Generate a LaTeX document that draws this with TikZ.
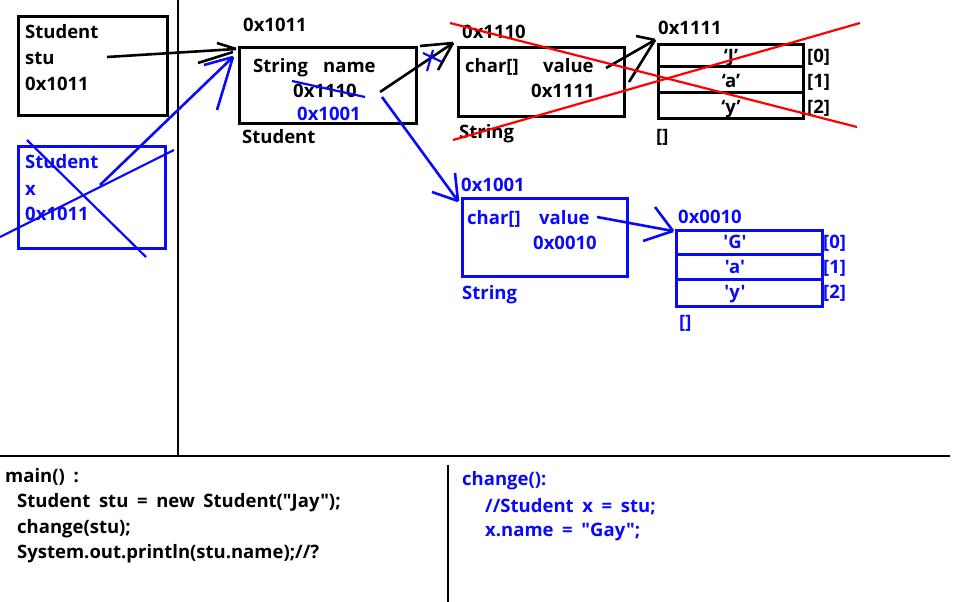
\documentclass[tikz,border=0pt]{standalone}
\usepackage{fontspec}
\setmainfont{Open Sans}[Ligatures=TeXOff,WordSpace=1.8]
\definecolor{myblue}{RGB}{10,10,250}
\definecolor{myred}{RGB}{255,0,0}
\begin{document}
\begin{tikzpicture}[x=1pt,y=-1pt,
  txt/.style={inner sep=0pt,anchor=base west,font=\fontsize{18.5}{21}\selectfont\bfseries},
  btxt/.style={txt,text=myblue},
  blkbox/.style={draw=black,line width=3pt},
  blubox/.style={draw=myblue,line width=3pt},
  blk/.style={draw=black,line width=2.6pt},
  blu/.style={draw=myblue,line width=2.6pt},
  rd/.style={draw=myred,line width=2.2pt},
  sep/.style={draw=black,line width=2.8pt}]
\useasboundingbox (0,0) rectangle (958,602);
\fill[white] (0,0) rectangle (958,602);

% separators
\coordinate (v1t) at (178,0); \coordinate (v1b) at (178,456);
\coordinate (h1l) at (0,456); \coordinate (h1r) at (950,456);
\coordinate (v2t) at (448,465); \coordinate (v2b) at (448,602);
\draw[sep] (v1t) -- (v1b);
\draw[sep] (h1l) -- (h1r);
\draw[sep] (v2t) -- (v2b);

% stu box
\node[blkbox,minimum width=149pt,minimum height=99pt,anchor=north west,inner sep=0pt] (stubox) at (17,15) {};
\node[txt] (stu1) at (25,38) {Student};
\node[txt] (stu2) at (25,64) {stu};
\node[txt] (stu3) at (25,90) {0x1011};

% x box
\node[blubox,minimum width=147pt,minimum height=102pt,anchor=north west,inner sep=0pt] (xbox) at (17,145) {};
\node[btxt] (x1) at (25,168) {Student};
\node[btxt] (x2) at (25,195) {x};
\node[btxt] (x3) at (25,220) {0x1011};
\coordinate (xc1a) at (27,140); \coordinate (xc1b) at (146,257);
\coordinate (xc2a) at (0,237); \coordinate (xc2b) at (174,150);
\draw[blu,line width=2.2pt] (xc1a) -- (xc1b);
\draw[blu,line width=2.2pt] (xc2a) -- (xc2b);

% Student object
\node[txt] (stuaddr) at (243,32) {0x1011};
\node[blkbox,minimum width=177pt,minimum height=76pt,anchor=north west,inner sep=0pt] (stuobj) at (238,46) {};
\node[txt] (sname1) at (253,72) {String};
\node[txt] (sname2) at (323,72) {name};
\node[txt] (old1) at (293,97) {0x1110};
\node[btxt] (new1) at (297,120) {0x1001};
\node[txt] (stulab) at (242,143) {Student};
\coordinate (st1) at (292,81); \coordinate (st2) at (365,97);
\draw[blu,line width=2.2pt] (st1) -- (st2);

% arrow stu -> Student object
\coordinate (a1s) at (107,57); \coordinate (a1t) at (236,49);
\coordinate (a1h1) at (217,43); \coordinate (a1h2) at (198,63); \coordinate (a1t2) at (233,52);
\draw[blk] (a1s) -- (a1t);
\draw[blk] (a1h1) -- (a1t);
\draw[blk] (a1h2) -- (a1t2);

% arrow x -> Student object
\coordinate (a2s) at (100,185); \coordinate (a2t) at (233,57);
\coordinate (a2h1) at (204,65); \coordinate (a2h2) at (217,110);
\draw[blu] (a2s) -- (a2t);
\draw[blu] (a2h1) -- (a2t);
\draw[blu] (a2h2) -- (a2t);

% old String object
\node[txt] (s1addr) at (462,38) {0x1110};
\node[blkbox,minimum width=166pt,minimum height=69pt,anchor=north west,inner sep=0pt] (s1obj) at (457,46) {};
\node[txt] (s1a) at (465,73) {char[]};
\node[txt] (s1b) at (543,73) {value};
\node[txt] (s1c) at (531,97) {0x1111};
\node[txt] (s1lab) at (459,138) {String};

% arrow name -> old String
\coordinate (a3s) at (380,92); \coordinate (a3t) at (453,43);
\coordinate (a3h1) at (420,46); \coordinate (a3h2) at (438,70);
\draw[blk] (a3s) -- (a3t);
\draw[blk] (a3h1) -- (a3t);
\draw[blk] (a3h2) -- (a3t);
\coordinate (bx1) at (423,53); \coordinate (bx2) at (442,62);
\coordinate (bx3) at (433,50); \coordinate (bx4) at (427,71);
\draw[blu,line width=2.2pt] (bx1) -- (bx2);
\draw[blu,line width=2.2pt] (bx3) -- (bx4);

% old array
\node[txt] (ar1addr) at (658,35) {0x1111};
\node[blkbox,minimum width=145pt,minimum height=74pt,anchor=north west,inner sep=0pt] (ar1) at (657,43) {};
\coordinate (r1l) at (657,67); \coordinate (r1r) at (802,67);
\coordinate (r2l) at (657,92); \coordinate (r2r) at (802,92);
\draw[blk,line width=3pt] (r1l) -- (r1r);
\draw[blk,line width=3pt] (r2l) -- (r2r);
\node[txt,anchor=base] (c0) at (731,63) {‘J’};
\node[txt,anchor=base] (c1) at (731,87) {‘a’};
\node[txt,anchor=base] (c2) at (731,113) {‘y’};
\node[txt] (i0) at (807,63) {[0]};
\node[txt] (i1) at (807,87) {[1]};
\node[txt] (i2) at (807,113) {[2]};
\node[txt] (ar1lab) at (656,142) {[]};

% arrow value -> old array
\coordinate (a4s) at (606,68); \coordinate (a4t) at (655,40);
\coordinate (a4h1) at (636,36); \coordinate (a4h2) at (629,82);
\draw[blk] (a4s) -- (a4t);
\draw[blk] (a4h1) -- (a4t);
\draw[blk] (a4h2) -- (a4t);

% red cross
\coordinate (rc1a) at (450,23); \coordinate (rc1b) at (857,127);
\coordinate (rc2a) at (453,140); \coordinate (rc2b) at (860,23);
\draw[rd] (rc1a) -- (rc1b);
\draw[rd] (rc2a) -- (rc2b);

% new String object
\node[btxt] (s2addr) at (461,191) {0x1001};
\node[blubox,minimum width=165pt,minimum height=78pt,anchor=north west,inner sep=0pt] (s2obj) at (461,197) {};
\node[btxt] (s2a) at (467,224) {char[]};
\node[btxt] (s2b) at (539,224) {value};
\node[btxt] (s2c) at (533,249) {0x0010};
\node[btxt] (s2lab) at (462,299) {String};

% arrow name -> new String
\coordinate (a5s) at (382,97); \coordinate (a5t) at (458,201);
\coordinate (a5h1) at (455,173); \coordinate (a5h2) at (432,192);
\draw[blu] (a5s) -- (a5t);
\draw[blu] (a5h1) -- (a5t);
\draw[blu] (a5h2) -- (a5t);

% new array
\node[btxt] (ar2addr) at (678,223) {0x0010};
\node[blubox,minimum width=146pt,minimum height=76pt,anchor=north west,inner sep=0pt] (ar2) at (675,229) {};
\coordinate (q1l) at (675,254); \coordinate (q1r) at (821,254);
\coordinate (q2l) at (675,279); \coordinate (q2r) at (821,279);
\draw[blu,line width=3pt] (q1l) -- (q1r);
\draw[blu,line width=3pt] (q2l) -- (q2r);
\node[btxt,anchor=base] (d0) at (735,248) {'G'};
\node[btxt,anchor=base] (d1) at (735,273) {'a'};
\node[btxt,anchor=base] (d2) at (735,298) {'y'};
\node[btxt] (j0) at (823,248) {[0]};
\node[btxt] (j1) at (823,273) {[1]};
\node[btxt] (j2) at (823,298) {[2]};
\node[btxt] (ar2lab) at (679,328) {[]};

% arrow value -> new array
\coordinate (a6s) at (597,217); \coordinate (a6t) at (673,231);
\coordinate (a6h1) at (655,207); \coordinate (a6h2) at (643,241);
\draw[blu] (a6s) -- (a6t);
\draw[blu] (a6h1) -- (a6t);
\draw[blu] (a6h2) -- (a6t);

% code
\node[txt] (m0) at (5,482) {main() :};
\node[txt] (m1) at (17,507) {Student stu = new Student("Jay");};
\node[txt] (m2) at (17,533) {change(stu);};
\node[txt] (m3) at (17,558) {System.out.println(stu.name);//?};
\node[btxt] (n0) at (462,485) {change():};
\node[btxt] (n1) at (485,512) {//Student x = stu;};
\node[btxt] (n2) at (485,536) {x.name = "Gay";};
\end{tikzpicture}
\end{document}
